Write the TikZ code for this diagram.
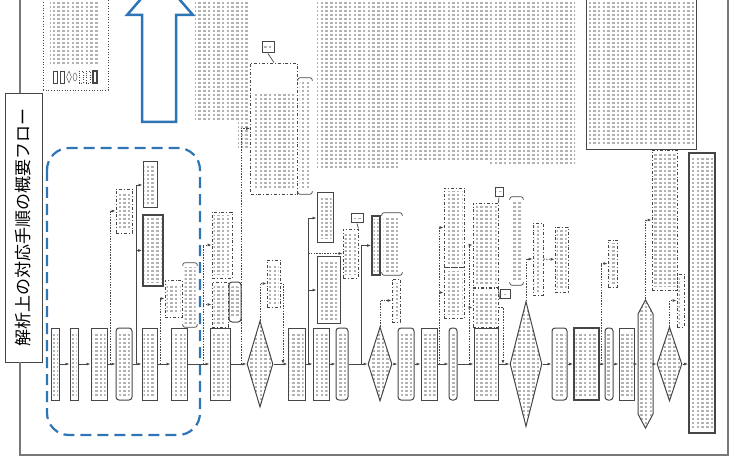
\documentclass[tikz,border=0pt]{standalone}
\usepackage{fontspec}
\newfontfamily\jpfont{Noto Sans CJK JP}
\usepackage{tikz}
\usetikzlibrary{positioning,arrows.meta,shapes.geometric,shapes.symbols,patterns}
\definecolor{flow_c}{RGB}{70,70,70}
\definecolor{note_c}{RGB}{178,178,178}
\definecolor{frame_c}{RGB}{120,120,120}
\definecolor{blue_c}{RGB}{46,117,182}
\pgfdeclarepatternformonly{kanji}{\pgfpoint{-0.1pt}{-0.1pt}}{\pgfpoint{4.8pt}{4.1pt}}{\pgfpoint{4.7pt}{4pt}}{%
  \pgfpathrectangle{\pgfpoint{1pt}{0.6pt}}{\pgfpoint{2.5pt}{2.7pt}}\pgfusepath{fill}}

\begin{document}
\begin{tikzpicture}[
  x=1pt, y=-1pt,
  txt/.style={path picture={\fill[pattern=kanji, pattern color=note_c]
      ([shift={(1.5pt,-4pt)}]path picture bounding box.north west) rectangle
      ([shift={(-1.5pt,4pt)}]path picture bounding box.south east);}},
  mb/.style={draw=flow_c, line width=1pt, rectangle, inner sep=0pt, minimum height=72pt, txt},
  rb/.style={mb, rounded corners=3pt},
  tb/.style={mb, line width=1.8pt},
  db/.style={draw=flow_c, line width=0.8pt, dash dot, rectangle, inner sep=0pt, txt},
  dia/.style={draw=flow_c, line width=1pt, diamond, inner sep=0pt, txt},
  lab/.style={draw=flow_c, line width=1pt, rectangle, inner sep=0pt, txt},
  brk/.style={rectangle, inner sep=0pt, txt},
  sym/.style={draw=flow_c, inner sep=0pt, minimum width=4pt, minimum height=12pt},
  fl/.style={draw=flow_c, line width=0.8pt, -{Latex[length=4pt,width=3pt]}},
  dl/.style={fl, dash pattern=on 1.5pt off 1.2pt},
  tl/.style={draw=flow_c, line width=0.7pt},
  frame/.style={draw=frame_c, line width=1.3pt},
]
\useasboundingbox (0,0) rectangle (731,473);
\clip (0,0) rectangle (731,473);

\node[draw=flow_c, line width=0.8pt, rotate=90, minimum width=269pt, minimum height=37pt,
      font=\jpfont\fontsize{17}{17}\selectfont] (title) at (23.5,227.5) {解析上の対応手順の概要フロー};
\draw[frame] (20,-2) -- (20,93);
\draw[frame] (20,362) -- (20,455) -- (728,455) -- (728,-2);

\node[draw=flow_c, line width=0.7pt, dotted, minimum width=65pt, minimum height=95pt] (legend) at (75.5,42.5) {};
\fill[pattern=kanji, pattern color=note_c] (50,2) rectangle (100,66);
\node[sym] (lg1) at (55,77) {};
\node[sym] (lg2) at (62,77) {};
\node[sym, diamond, minimum width=5pt] (lg3) at (69,77) {};
\node[sym, ellipse, minimum height=8pt] (lg4) at (75,77) {};
\node[sym, dotted] (lg5) at (81,77) {};
\node[sym, dotted] (lg6) at (88,77) {};
\node[sym, line width=1.2pt] (lg7) at (95,77) {};

\fill[pattern=kanji, pattern color=note_c] (195,0) rectangle (238,122);
\fill[pattern=kanji, pattern color=note_c] (238,0) rectangle (248,148);
\fill[pattern=kanji, pattern color=note_c] (317,0) rectangle (400,168);
\fill[pattern=kanji, pattern color=note_c] (400,0) rectangle (490,160);
\fill[pattern=kanji, pattern color=note_c] (490,0) rectangle (575,165);
\node[mb, minimum width=110pt, minimum height=157pt] (T1) at (641,71.5) {};

\draw[blue_c, line width=2.5pt, line join=miter]
  (142,122) -- (142,15) -- (127,15) -- (160,-23) -- (193,15) -- (176,15) -- (176,122) -- cycle;
\draw[blue_c, line width=2.2pt, dash pattern=on 11pt off 6pt, rounded corners=22pt]
  (47,148) rectangle (200,435);

\node[mb, minimum width=8pt]  (m1)  at (55.5,364) {};
\node[mb, minimum width=8pt]  (m2)  at (74,364)   {};
\node[mb, minimum width=16pt] (m3)  at (99,364)   {};
\node[rb, minimum width=16pt] (m4)  at (124,364)  {};
\node[mb, minimum width=15pt] (m5)  at (149.5,364) {};
\node[mb, minimum width=16pt] (m6)  at (179,364)  {};
\node[mb, minimum width=20pt] (m7)  at (220,364)  {};
\node[dia, minimum width=26pt, minimum height=86pt] (d1) at (260,364) {};
\node[mb, minimum width=17pt] (m8)  at (296.5,364) {};
\node[mb, minimum width=16pt] (m9)  at (321,364)  {};
\node[rb, minimum width=12pt] (m10) at (342,364)  {};
\node[dia, minimum width=24pt, minimum height=74pt] (d2) at (380,364) {};
\node[rb, minimum width=16pt] (m11) at (406,364)  {};
\node[mb, minimum width=16pt] (m12) at (429,364)  {};
\node[rb, minimum width=8pt]  (m13) at (453,364)  {};
\node[mb, minimum width=24pt] (m14) at (486,364)  {};
\node[dia, minimum width=32pt, minimum height=125pt] (d3) at (526,364) {};
\node[rb, minimum width=15pt] (m15) at (559.5,364) {};
\node[tb, minimum width=25pt] (m16) at (586.5,364) {};
\node[rb, minimum width=8pt]  (m17) at (609,364)  {};
\node[mb, minimum width=15pt] (m18) at (626.5,364) {};
\node[draw=flow_c, line width=1pt, signal, signal to=north and south, signal pointer angle=56,
      inner sep=0pt, minimum width=15pt, minimum height=100pt, txt] (h1) at (645.5,364) {};
\node[dia, minimum width=25pt, minimum height=74pt] (d4) at (669.5,364) {};
\node[tb, minimum width=26pt, minimum height=280pt] (m19) at (702,293) {};

\foreach \a/\b in {m1/m2, m2/m3, m3/m4, m4/m5, m5/m6, m6/m7, m7/d1, d1/m8, m8/m9, m9/m10,
                   m10/d2, d2/m11, m11/m12, m12/m13, m13/m14, m14/d3, d3/m15, m15/m16,
                   m16/m17, m17/m18, m18/h1, h1/d4}
  \draw[fl] (\a) -- (\b);
\draw[fl] (d4) -- (d4 -| m19.west);

\node[db, minimum width=16pt, minimum height=44pt] (u1)  at (124,211)   {};
\node[mb, minimum width=14pt, minimum height=46pt] (u2)  at (150,185)   {};
\node[tb, minimum width=20pt, minimum height=71pt] (u3)  at (153,250.5) {};
\node[db, minimum width=17pt, minimum height=37pt] (u4)  at (173.5,298.5) {};
\node[brk, minimum width=14pt, minimum height=64pt] (t1) at (190,295)   {};
\node[db, minimum width=20pt, minimum height=66pt] (u5)  at (222,245)   {};
\node[db, minimum width=16pt, minimum height=45pt] (u6)  at (220,304.5) {};
\node[rb, minimum width=12pt, minimum height=40pt] (u7)  at (235,302)   {};
\node[draw=flow_c, line width=0.8pt, dash dot, minimum width=47pt, minimum height=131pt] (u8) at (274,128.5) {};
\fill[pattern=kanji, pattern color=note_c] (254,95) rectangle (294,190);
\node[lab, minimum width=12pt, minimum height=11pt] (L1) at (268,47.5)  {};
\node[brk, minimum width=14pt, minimum height=116pt] (t2) at (305,136)  {};
\node[db, minimum width=13pt, minimum height=47pt] (u9)  at (273.5,283.5) {};
\node[mb, minimum width=16pt, minimum height=50pt] (u10) at (325,218)   {};
\node[mb, minimum width=23pt, minimum height=66pt] (u11) at (328.5,290) {};
\node[db, minimum width=15pt, minimum height=49pt] (u12) at (350.5,253.5) {};
\node[lab, minimum width=12pt, minimum height=9pt] (L2)  at (357,218.5) {};
\node[tb, minimum width=8pt, minimum height=59pt]  (u13) at (376,245.5) {};
\node[brk, minimum width=20pt, minimum height=62pt] (t3) at (392,244)   {};
\node[db, minimum width=8pt, minimum height=43pt]  (u14) at (396,300.5) {};
\node[db, minimum width=20pt, minimum height=79pt] (u15) at (454,227.5) {};
\node[db, minimum width=20pt, minimum height=51pt] (u16) at (454,292.5) {};
\node[db, minimum width=25pt, minimum height=84pt] (u17) at (485.5,245) {};
\node[db, minimum width=25pt, minimum height=39pt] (u18) at (485.5,307.5) {};
\node[lab, minimum width=8pt, minimum height=9pt]  (L3)  at (499,192.5) {};
\node[lab, minimum width=10pt, minimum height=9pt] (L4)  at (505,294)   {};
\node[brk, minimum width=13pt, minimum height=88pt] (t4) at (516.5,241) {};
\node[db, minimum width=10pt, minimum height=72pt] (u19) at (538,259)   {};
\node[db, minimum width=13pt, minimum height=65pt] (u20) at (561.5,259.5) {};
\node[db, minimum width=9pt, minimum height=47pt]  (u21) at (612.5,263.5) {};
\node[db, minimum width=25pt, minimum height=140pt] (u22) at (664.5,220) {};
\node[db, minimum width=7pt, minimum height=53pt]  (u23) at (680.5,300.5) {};

\foreach \t in {t1,t2,t3,t4} {
  \draw[tl, rounded corners=2pt] ([yshift=-3pt]\t.north west) |- (\t.north east) -- ([yshift=-3pt]\t.north east);
  \draw[tl, rounded corners=2pt] ([yshift=3pt]\t.south west) |- (\t.south east) -- ([yshift=3pt]\t.south east);
}

\coordinate (b1)  at (110,364);
\coordinate (b2)  at (136,364);
\coordinate (b3)  at (160,364);
\coordinate (b4)  at (203,364);
\coordinate (b5)  at (241,364);
\coordinate (b7)  at (308,364);
\coordinate (b8)  at (361,364);
\coordinate (b10) at (439,364);
\coordinate (b11) at (469,364);
\coordinate (b13) at (601,364);
\coordinate (r1)  at (283,364);
\coordinate (r2)  at (503,364);

\draw[dl] (b1) |- (u1.west);
\draw[fl] (b2) |- (u2.west);
\draw[fl] (b2) |- (u3.west);
\draw[dl] (b3) |- (u4.west);
\draw[dl] (b4) |- (u5.west);
\draw[dl] (b4) |- (u6.west);
\draw[dl] (b5) |- (u8.west);
\draw[dl] (d1.north) |- (u9.west);
\draw[dl] (u9.east) -| (r1);
\draw[fl] (b7) |- (u10.west);
\draw[fl] (b7) |- (u11.west);
\draw[dl] (b7) |- (u12.west);
\draw[fl] (b8) |- (u13.west);
\draw[dl] (d2.north) |- (u14.west);
\draw[dl] (b10) |- (u15.west);
\draw[dl] (b10) |- (u16.west);
\draw[dl] (b11) |- (u17.west);
\draw[dl] (b11) |- (u18.west);
\draw[dl] (u18.east) -| (r2);
\draw[dl] (d3.north) |- (u19.west);
\draw[dl] (u19) -- (u20);
\draw[dl] (b13) |- (u21.west);
\draw[dl] (h1.north) |- (u22.west);
\draw[dl] (d4.north) |- (u23.west);

\draw[tl] (L1.south) -- (u8.north);
\draw[tl] (L2.south) -- (u12.north east);
\draw[tl] (L3.south) -- (u17.north east);
\draw[tl] (L4.south west) -- (u18.north east);
\end{tikzpicture}
\end{document}
